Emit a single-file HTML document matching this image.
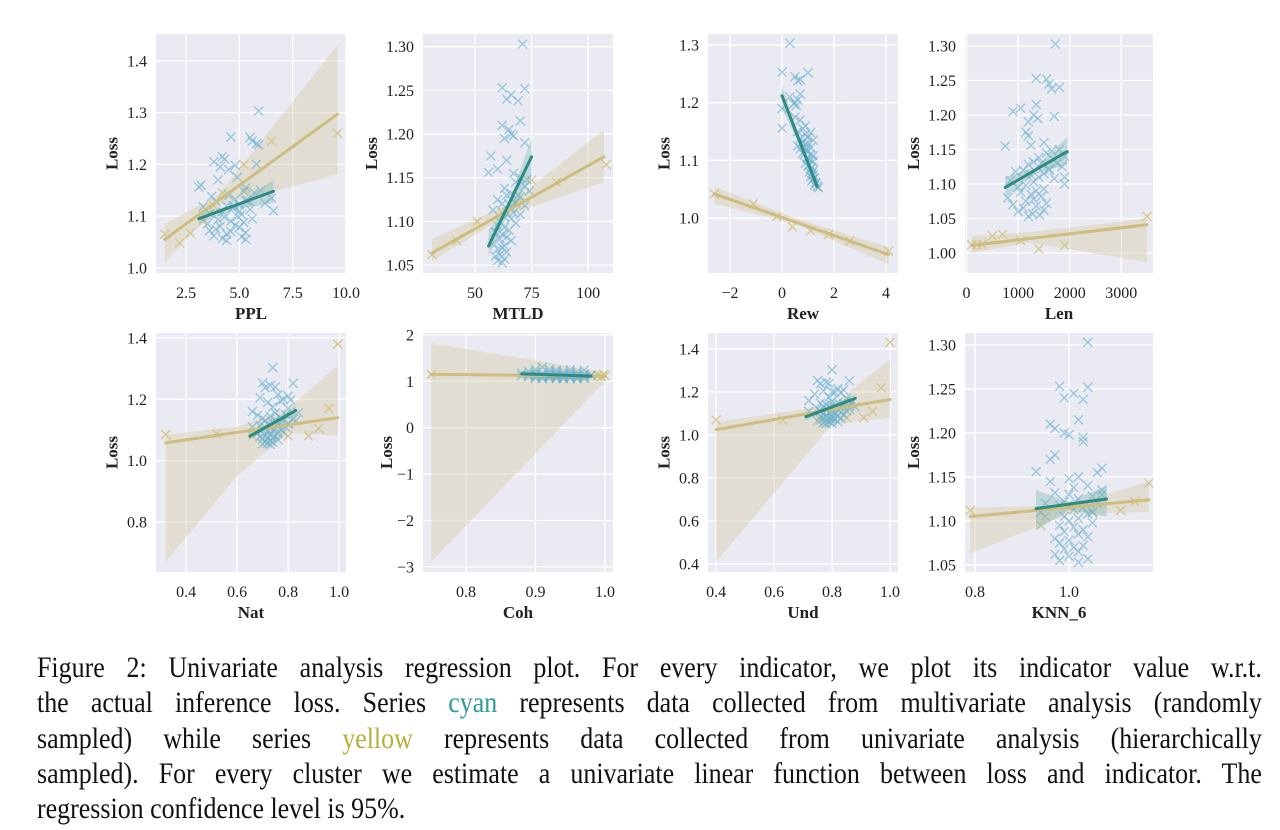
<!DOCTYPE html>
<html><head><meta charset="utf-8">
<style>
body{margin:0;background:#fff;width:1280px;height:830px;overflow:hidden;position:relative;font-family:"Liberation Serif",serif}
#fig{position:absolute;left:0;top:0}
.cap{position:absolute;left:37px;width:1416px;font-size:30px;line-height:35px;text-align:justify;text-align-last:justify;white-space:nowrap;color:#111;transform:scaleX(0.865);transform-origin:0 0}
.cap.last{text-align-last:left}
.cy{color:#2f9a9a}.ye{color:#b8b03a}
</style></head><body>
<svg id="fig" width="1280" height="640"></svg>
<div class="cap" style="top:650px">Figure 2: Univariate analysis regression plot. For every indicator, we plot its indicator value w.r.t.</div>
<div class="cap" style="top:685px">the actual inference loss. Series <span class="cy">cyan</span> represents data collected from multivariate analysis (randomly</div>
<div class="cap" style="top:721px">sampled) while series <span class="ye">yellow</span> represents data collected from univariate analysis (hierarchically</div>
<div class="cap" style="top:756px">sampled). For every cluster we estimate a univariate linear function between loss and indicator. The</div>
<div class="cap last" style="top:791px">regression confidence level is 95%.</div>
<script>
const lossC=[1.303,1.253,1.252,1.245,1.24,1.238,1.215,1.21,1.205,1.2,1.198,1.195,1.19,1.175,1.17,1.16,1.156,1.155,1.15,1.148,1.145,1.14,1.138,1.135,1.132,1.13,1.128,1.125,1.122,1.12,1.118,1.115,1.113,1.11,1.108,1.105,1.103,1.1,1.098,1.095,1.093,1.09,1.088,1.085,1.082,1.08,1.078,1.075,1.072,1.07,1.068,1.065,1.062,1.06,1.057,1.055,1.053,1.11,1.12,1.13];
const pplX=[5.9,4.6,5.5,5.6,5.8,5.9,4.2,4.3,3.8,5.8,4.8,4.1,4.5,4.9,4.0,3.2,3.1,5.3,6.0,5.2,5.7,4.5,3.7,6.5,4.8,5.3,3.9,6.2,5.0,4.4,3.3,4.7,5.5,6.6,4.2,3.6,5.1,4.9,4.3,5.6,4.0,4.6,5.2,3.5,4.8,4.1,5.0,3.9,3.6,4.6,5.3,4.4,3.8,5.1,4.2,5.3,4.4,5.0,4.7,5.4];
const mtldX=[71,62,72,66,64,69,70,62,65,66,67,63,72,57,64,60,56,67,70,73,68,72,63,74,66,64,70,60,68,62,72,66,58,64,70,63,66,61,68,60,63,65,59,62,64,61,66,58,63,62,60,64,61,59,63,60,62,67,65,69];
const rewX=[0.3,0.0,1.0,0.5,0.7,0.6,0.7,0.3,0.6,0.5,0.45,0.55,0.0,0.5,0.7,0.9,0.0,0.8,0.6,1.1,0.9,1.0,0.7,1.2,0.8,1.0,0.9,0.6,1.1,0.7,0.9,1.0,0.8,1.1,1.2,0.95,1.0,1.1,1.2,0.9,1.05,1.0,1.15,1.1,1.2,1.05,1.15,1.2,1.1,1.25,1.2,1.15,1.3,1.3,1.25,1.35,1.4,0.85,0.95,0.75];
const lenX=[1720,1350,1550,1600,1800,1650,1350,1050,900,1300,1700,1380,1200,1150,1200,1500,1250,750,1800,1650,1550,1900,1400,1700,1300,1450,1200,1850,1600,1100,950,1500,1250,1400,1700,850,1300,1900,1150,1000,1500,1350,1050,1250,1450,800,1300,1150,1550,900,1350,1100,1500,1000,1280,1420,1200,1900,1600,1750];
const natX=[0.74,0.7,0.82,0.73,0.75,0.71,0.76,0.8,0.69,0.78,0.81,0.77,0.72,0.74,0.8,0.66,0.84,0.75,0.79,0.68,0.73,0.77,0.7,0.82,0.75,0.71,0.78,0.74,0.8,0.72,0.76,0.69,0.73,0.79,0.71,0.75,0.77,0.7,0.74,0.72,0.78,0.68,0.76,0.73,0.71,0.75,0.69,0.74,0.72,0.7,0.76,0.73,0.71,0.74,0.72,0.7,0.73,0.66,0.8,0.83];
const cohX=[0.91,0.9,0.92,0.95,0.93,0.97,0.89,0.94,0.96,0.92,0.9,0.93,0.95,0.88,0.91,0.94,0.97,0.92,0.96,0.9,0.93,0.95,0.89,0.94,0.98,0.91,0.93,0.96,0.92,0.95,0.9,0.94,0.97,0.93,0.91,0.96,0.92,0.95,0.89,0.94,0.93,0.97,0.9,0.92,0.95,0.93,0.91,0.96,0.94,0.92,0.9,0.95,0.93,0.97,0.91,0.94,0.96,0.92,0.88,0.98];
const undX=[0.8,0.75,0.86,0.78,0.79,0.76,0.82,0.84,0.77,0.8,0.81,0.83,0.74,0.79,0.85,0.72,0.87,0.8,0.82,0.76,0.84,0.78,0.8,0.86,0.77,0.81,0.79,0.83,0.75,0.8,0.82,0.78,0.85,0.76,0.8,0.83,0.79,0.81,0.77,0.84,0.8,0.78,0.82,0.76,0.8,0.79,0.83,0.77,0.81,0.8,0.78,0.75,0.82,0.79,0.77,0.8,0.78,0.72,0.86,0.88];
const knnX=[1.04,0.98,1.04,1.01,0.99,1.03,1.02,0.96,0.97,0.99,1.0,1.03,1.03,0.97,0.96,1.07,0.93,1.06,1.02,1.0,0.96,1.04,1.01,1.07,0.97,1.0,1.05,1.02,0.99,1.06,0.98,1.03,1.01,0.94,1.04,0.99,1.02,1.0,1.05,0.98,1.01,1.03,0.99,1.02,1.04,0.97,1.0,0.98,1.03,1.01,0.99,1.02,0.97,1.0,1.04,0.98,1.02,1.05,0.95,1.07];
// yellow points
const pplYX=[1.5,2.2,2.7,3.3,4.2,5.2,5.3,6.5,9.6,3.8], pplYY=[1.065,1.048,1.067,1.09,1.145,1.2,1.15,1.245,1.26,1.12];
const mtldYX=[31,42,51,62,75,86,108,68], mtldYY=[1.062,1.078,1.10,1.11,1.147,1.145,1.165,1.12];
const rewYX=[-2.6,-1.1,-0.2,0.4,1.1,1.8,2.6,4.1], rewYY=[1.042,1.025,1.003,0.985,0.978,0.972,0.96,0.943];
const lenYX=[100,200,300,500,700,1050,1400,1900,3500], lenYY=[1.012,1.012,1.012,1.025,1.027,1.018,1.006,1.011,1.053];
const natYX=[0.32,0.52,0.66,0.8,0.88,0.92,0.96,0.995], natYY=[1.085,1.088,1.08,1.08,1.08,1.105,1.17,1.38];
const cohYX=[0.75,0.995,0.998,1.0,0.99,0.97], cohYY=[1.15,1.1,1.15,1.12,1.13,1.1];
const undYX=[0.4,0.63,0.76,0.85,0.91,0.94,0.97,1.0], undYY=[1.07,1.07,1.07,1.08,1.08,1.11,1.22,1.43];
const knnYX=[0.79,0.94,0.95,1.05,1.11,1.14,1.17], knnYY=[1.112,1.095,1.105,1.11,1.112,1.122,1.143];
// fit lines [x0,x1],[y0,y1]; bands x, lo, hi
const pplYFitX=[1.5,9.6], pplYFitY=[1.055,1.297], pplYBandX=[1.5,4,9.6], pplYBandLo=[1.01,1.12,1.18], pplYBandHi=[1.085,1.14,1.43];
const pplCFitX=[3.1,6.6], pplCFitY=[1.095,1.148], pplCBandX=[3.1,5,6.6], pplCBandLo=[1.085,1.115,1.125], pplCBandHi=[1.105,1.125,1.17];
const mtldYFitX=[31,107], mtldYFitY=[1.064,1.174], mtldYBandX=[31,65,107], mtldYBandLo=[1.055,1.108,1.145], mtldYBandHi=[1.08,1.12,1.205];
const mtldCFitX=[56,75], mtldCFitY=[1.072,1.174], mtldCBandX=[56,64,75], mtldCBandLo=[1.06,1.105,1.15], mtldCBandHi=[1.09,1.115,1.195];
const rewYFitX=[-2.6,4.1], rewYFitY=[1.042,0.937], rewYBandX=[-2.6,0.5,4.1], rewYBandLo=[1.025,0.99,0.92], rewYBandHi=[1.055,1.0,0.95];
const rewCFitX=[0,1.35], rewCFitY=[1.212,1.055], rewCBandX=[0,0.8,1.35], rewCBandLo=[1.19,1.115,1.045], rewCBandHi=[1.23,1.125,1.065];
const lenYFitX=[100,3500], lenYFitY=[1.011,1.041], lenYBandX=[100,1200,3500], lenYBandLo=[1.0,1.015,0.987], lenYBandHi=[1.025,1.03,1.05];
const lenCFitX=[750,1950], lenCFitY=[1.095,1.147], lenCBandX=[750,1350,1950], lenCBandLo=[1.08,1.115,1.128], lenCBandHi=[1.11,1.125,1.168];
const natYFitX=[0.32,0.995], natYFitY=[1.058,1.14], natYBandX=[0.32,0.6,0.8,0.995], natYBandLo=[0.67,0.95,1.09,1.082], natYBandHi=[1.085,1.11,1.17,1.31];
const natCFitX=[0.65,0.83], natCFitY=[1.08,1.163], natCBandX=[0.65,0.74,0.83], natCBandLo=[1.07,1.115,1.15], natCBandHi=[1.095,1.125,1.178];
const cohYFitX=[0.75,1.0], cohYFitY=[1.15,1.11], cohYBandX=[0.75,1.0], cohYBandLo=[-2.89,1.0], cohYBandHi=[1.82,1.2];
const cohCFitX=[0.88,0.98], cohCFitY=[1.16,1.11], cohCBandX=[0.88,0.98], cohCBandLo=[1.1,1.06], cohCBandHi=[1.22,1.16];
const undYFitX=[0.4,1.0], undYFitY=[1.025,1.165], undYBandX=[0.4,0.8,1.0], undYBandLo=[0.41,1.05,1.08], undYBandHi=[1.06,1.14,1.35];
const undCFitX=[0.71,0.88], undCFitY=[1.085,1.17], undCBandX=[0.71,0.8,0.88], undCBandLo=[1.07,1.12,1.15], undCBandHi=[1.1,1.135,1.19];
const knnYFitX=[0.79,1.17], knnYFitY=[1.105,1.124], knnYBandX=[0.79,1.0,1.17], knnYBandLo=[1.063,1.108,1.11], knnYBandHi=[1.115,1.118,1.145];
const knnCFitX=[0.93,1.08], knnCFitY=[1.114,1.125], knnCBandX=[0.93,1.0,1.08], knnCBandLo=[1.09,1.112,1.105], knnCBandHi=[1.135,1.122,1.14];
// ticks
const pplXT=[2.5,5,7.5,10], pplXL=["2.5","5.0","7.5","10.0"], pplYT=[1.0,1.1,1.2,1.3,1.4], pplYL=["1.0","1.1","1.2","1.3","1.4"];
const mtldXT=[50,75,100], mtldXL=["50","75","100"], mtldYT=[1.05,1.10,1.15,1.20,1.25,1.30], mtldYL=["1.05","1.10","1.15","1.20","1.25","1.30"];
const rewXT=[-2,0,2,4], rewXL=["\u22122","0","2","4"], rewYT=[1.0,1.1,1.2,1.3], rewYL=["1.0","1.1","1.2","1.3"];
const lenXT=[0,1000,2000,3000], lenXL=["0","1000","2000","3000"], lenYT=[1.0,1.05,1.10,1.15,1.20,1.25,1.30], lenYL=["1.00","1.05","1.10","1.15","1.20","1.25","1.30"];
const natXT=[0.4,0.6,0.8,1.0], natXL=["0.4","0.6","0.8","1.0"], natYT=[0.8,1.0,1.2,1.4], natYL=["0.8","1.0","1.2","1.4"];
const cohXT=[0.8,0.9,1.0], cohXL=["0.8","0.9","1.0"], cohYT=[-3,-2,-1,0,1,2], cohYL=["\u22123","\u22122","\u22121","0","1","2"];
const undXT=[0.4,0.6,0.8,1.0], undXL=["0.4","0.6","0.8","1.0"], undYT=[0.4,0.6,0.8,1.0,1.2,1.4], undYL=["0.4","0.6","0.8","1.0","1.2","1.4"];
const knnXT=[0.8,1.0], knnXL=["0.8","1.0"], knnYT=[1.05,1.10,1.15,1.20,1.25,1.30], knnYL=["1.05","1.10","1.15","1.20","1.25","1.30"];

const panels=[
 {n:'ppl',lab:'PPL',L:156,T:34,W:190,H:239,xd:[1.09,10.0],yd:[0.990,1.452],cx:pplX,yx:pplYX,yy:pplYY,yf:[pplYFitX,pplYFitY],yb:[pplYBandX,pplYBandLo,pplYBandHi],cf:[pplCFitX,pplCFitY],cb:[pplCBandX,pplCBandLo,pplCBandHi],xt:pplXT,xl:pplXL,yt:pplYT,yl:pplYL},
 {n:'mtld',lab:'MTLD',L:423,T:34,W:190,H:239,xd:[27,111],yd:[1.041,1.3145],cx:mtldX,yx:mtldYX,yy:mtldYY,yf:[mtldYFitX,mtldYFitY],yb:[mtldYBandX,mtldYBandLo,mtldYBandHi],cf:[mtldCFitX,mtldCFitY],cb:[mtldCBandX,mtldCBandLo,mtldCBandHi],xt:mtldXT,xl:mtldXL,yt:mtldYT,yl:mtldYL},
 {n:'rew',lab:'Rew',L:708,T:34,W:190,H:239,xd:[-2.846,4.46],yd:[0.905,1.319],cx:rewX,yx:rewYX,yy:rewYY,yf:[rewYFitX,rewYFitY],yb:[rewYBandX,rewYBandLo,rewYBandHi],cf:[rewCFitX,rewCFitY],cb:[rewCBandX,rewCBandLo,rewCBandHi],xt:rewXT,xl:rewXL,yt:rewYT,yl:rewYL},
 {n:'len',lab:'Len',L:965,T:34,W:188,H:239,xd:[-30,3615],yd:[0.971,1.3174],cx:lenX,yx:lenYX,yy:lenYY,yf:[lenYFitX,lenYFitY],yb:[lenYBandX,lenYBandLo,lenYBandHi],cf:[lenCFitX,lenCFitY],cb:[lenCBandX,lenCBandLo,lenCBandHi],xt:lenXT,xl:lenXL,yt:lenYT,yl:lenYL},
 {n:'nat',lab:'Nat',L:156,T:333,W:190,H:239,xd:[0.282,1.027],yd:[0.637,1.416],cx:natX,yx:natYX,yy:natYY,yf:[natYFitX,natYFitY],yb:[natYBandX,natYBandLo,natYBandHi],cf:[natCFitX,natCFitY],cb:[natCBandX,natCBandLo,natCBandHi],xt:natXT,xl:natXL,yt:natYT,yl:natYL},
 {n:'coh',lab:'Coh',L:423,T:333,W:190,H:239,xd:[0.738,1.0116],yd:[-3.11,2.04],cx:cohX,yx:cohYX,yy:cohYY,yf:[cohYFitX,cohYFitY],yb:[cohYBandX,cohYBandLo,cohYBandHi],cf:[cohCFitX,cohCFitY],cb:[cohCBandX,cohCBandLo,cohCBandHi],xt:cohXT,xl:cohXL,yt:cohYT,yl:cohYL},
 {n:'und',lab:'Und',L:708,T:333,W:190,H:239,xd:[0.372,1.0276],yd:[0.363,1.474],cx:undX,yx:undYX,yy:undYY,yf:[undYFitX,undYFitY],yb:[undYBandX,undYBandLo,undYBandHi],cf:[undCFitX,undCFitY],cb:[undCBandX,undCBandLo,undCBandHi],xt:undXT,xl:undXL,yt:undYT,yl:undYL},
 {n:'knn',lab:'KNN_6',L:965,T:333,W:188,H:239,xd:[0.7787,1.1787],yd:[1.042,1.3136],cx:knnX,yx:knnYX,yy:knnYY,yf:[knnYFitX,knnYFitY],yb:[knnYBandX,knnYBandLo,knnYBandHi],cf:[knnCFitX,knnCFitY],cb:[knnCBandX,knnCBandLo,knnCBandHi],xt:knnXT,xl:knnXL,yt:knnYT,yl:knnYL}
];
const NS='http://www.w3.org/2000/svg';
const svg=document.getElementById('fig');
function mk(tag,attrs,parent){const e=document.createElementNS(NS,tag);for(const k in attrs)e.setAttribute(k,attrs[k]);parent.appendChild(e);return e;}
panels.forEach(p=>{
 const sx=v=>p.L+(v-p.xd[0])/(p.xd[1]-p.xd[0])*p.W;
 const sy=v=>p.T+p.H-(v-p.yd[0])/(p.yd[1]-p.yd[0])*p.H;
 const g=mk('g',{},svg);
 
 
 const bg=mk('rect',{x:p.L,y:p.T,width:p.W,height:p.H,fill:'#eaeaf2'},g);
 
 
 const clipId='c'+p.n;
 const cp=mk('clipPath',{id:clipId},g);mk('rect',{x:p.L,y:p.T,width:p.W,height:p.H},cp);
 p.xt.forEach((t,i)=>{const x=sx(t);
  const gl=mk('line',{x1:x,x2:x,y1:p.T,y2:p.T+p.H,stroke:'#fff','stroke-width':1.3},g);
  
  
  const tx=mk('text',{x:x,y:p.T+p.H+25,'text-anchor':'middle','font-size':16,fill:'#222'},g);tx.textContent=p.xl[i];
  
  });
 p.yt.forEach((t,i)=>{const y=sy(t);
  const gl=mk('line',{x1:p.L,x2:p.L+p.W,y1:y,y2:y,stroke:'#fff','stroke-width':1.3},g);
  
  
  const tx=mk('text',{x:p.L-9,y:y+5.5,'text-anchor':'end','font-size':16,fill:'#222'},g);tx.textContent=p.yl[i];
  
  });
 const xlab=mk('text',{x:p.L+p.W/2,y:p.T+p.H+46,'text-anchor':'middle','font-size':17,'font-weight':'bold',fill:'#222'},g);xlab.textContent=p.lab;
 
 
 const yw=Math.max(...p.yl.map(s=>s.length))*7.5;
 const yx=p.L-yw-16, ymid=p.T+p.H/2;
 const ylab=mk('text',{x:yx,y:ymid,'text-anchor':'middle','font-size':17,'font-weight':'bold',fill:'#222',transform:`rotate(-90 ${yx} ${ymid})`},g);ylab.textContent='Loss';
 
 
 const pg=mk('g',{'clip-path':`url(#${clipId})`},g);
 function band(b,fill,op,name){const [bx,lo,hi]=b;let pts=bx.map((x,i)=>sx(x)+','+sy(hi[i]));for(let i=bx.length-1;i>=0;i--)pts.push(sx(bx[i])+','+sy(lo[i]));
  const e=mk('polygon',{points:pts.join(' '),fill:fill,'fill-opacity':op},pg);
  
  }
 function cross(x,y,col,op,name){const X=sx(x),Y=sy(y),r=4.5;
  const e=mk('path',{d:`M${X-r} ${Y-r}L${X+r} ${Y+r}M${X-r} ${Y+r}L${X+r} ${Y-r}`,stroke:col,'stroke-width':1.5,'stroke-opacity':op,fill:'none'},pg);
  
  }
 function fit(f,col,name){const e=mk('line',{x1:sx(f[0][0]),y1:sy(f[1][0]),x2:sx(f[0][1]),y2:sy(f[1][1]),stroke:col,'stroke-width':3,'stroke-linecap':'round'},pg);
  
  }
 band(p.yb,'#d9cfae',0.45,p.n+'-yellow-ci-band');
 p.yx.forEach((x,i)=>cross(x,p.yy[i],'#d2c48c',0.85,p.n+'-yellow-point'));
 p.cx.forEach((x,i)=>cross(x,lossC[i],'#6fb3cf',0.6,p.n+'-cyan-point'));
 band(p.cb,'#6fb3b0',0.35,p.n+'-cyan-ci-band');
 fit(p.yf,'#cdbd7e',p.n+'-yellow-fit-line');
 fit(p.cf,'#2e8b84',p.n+'-cyan-fit-line');
});
</script>
</body></html>
